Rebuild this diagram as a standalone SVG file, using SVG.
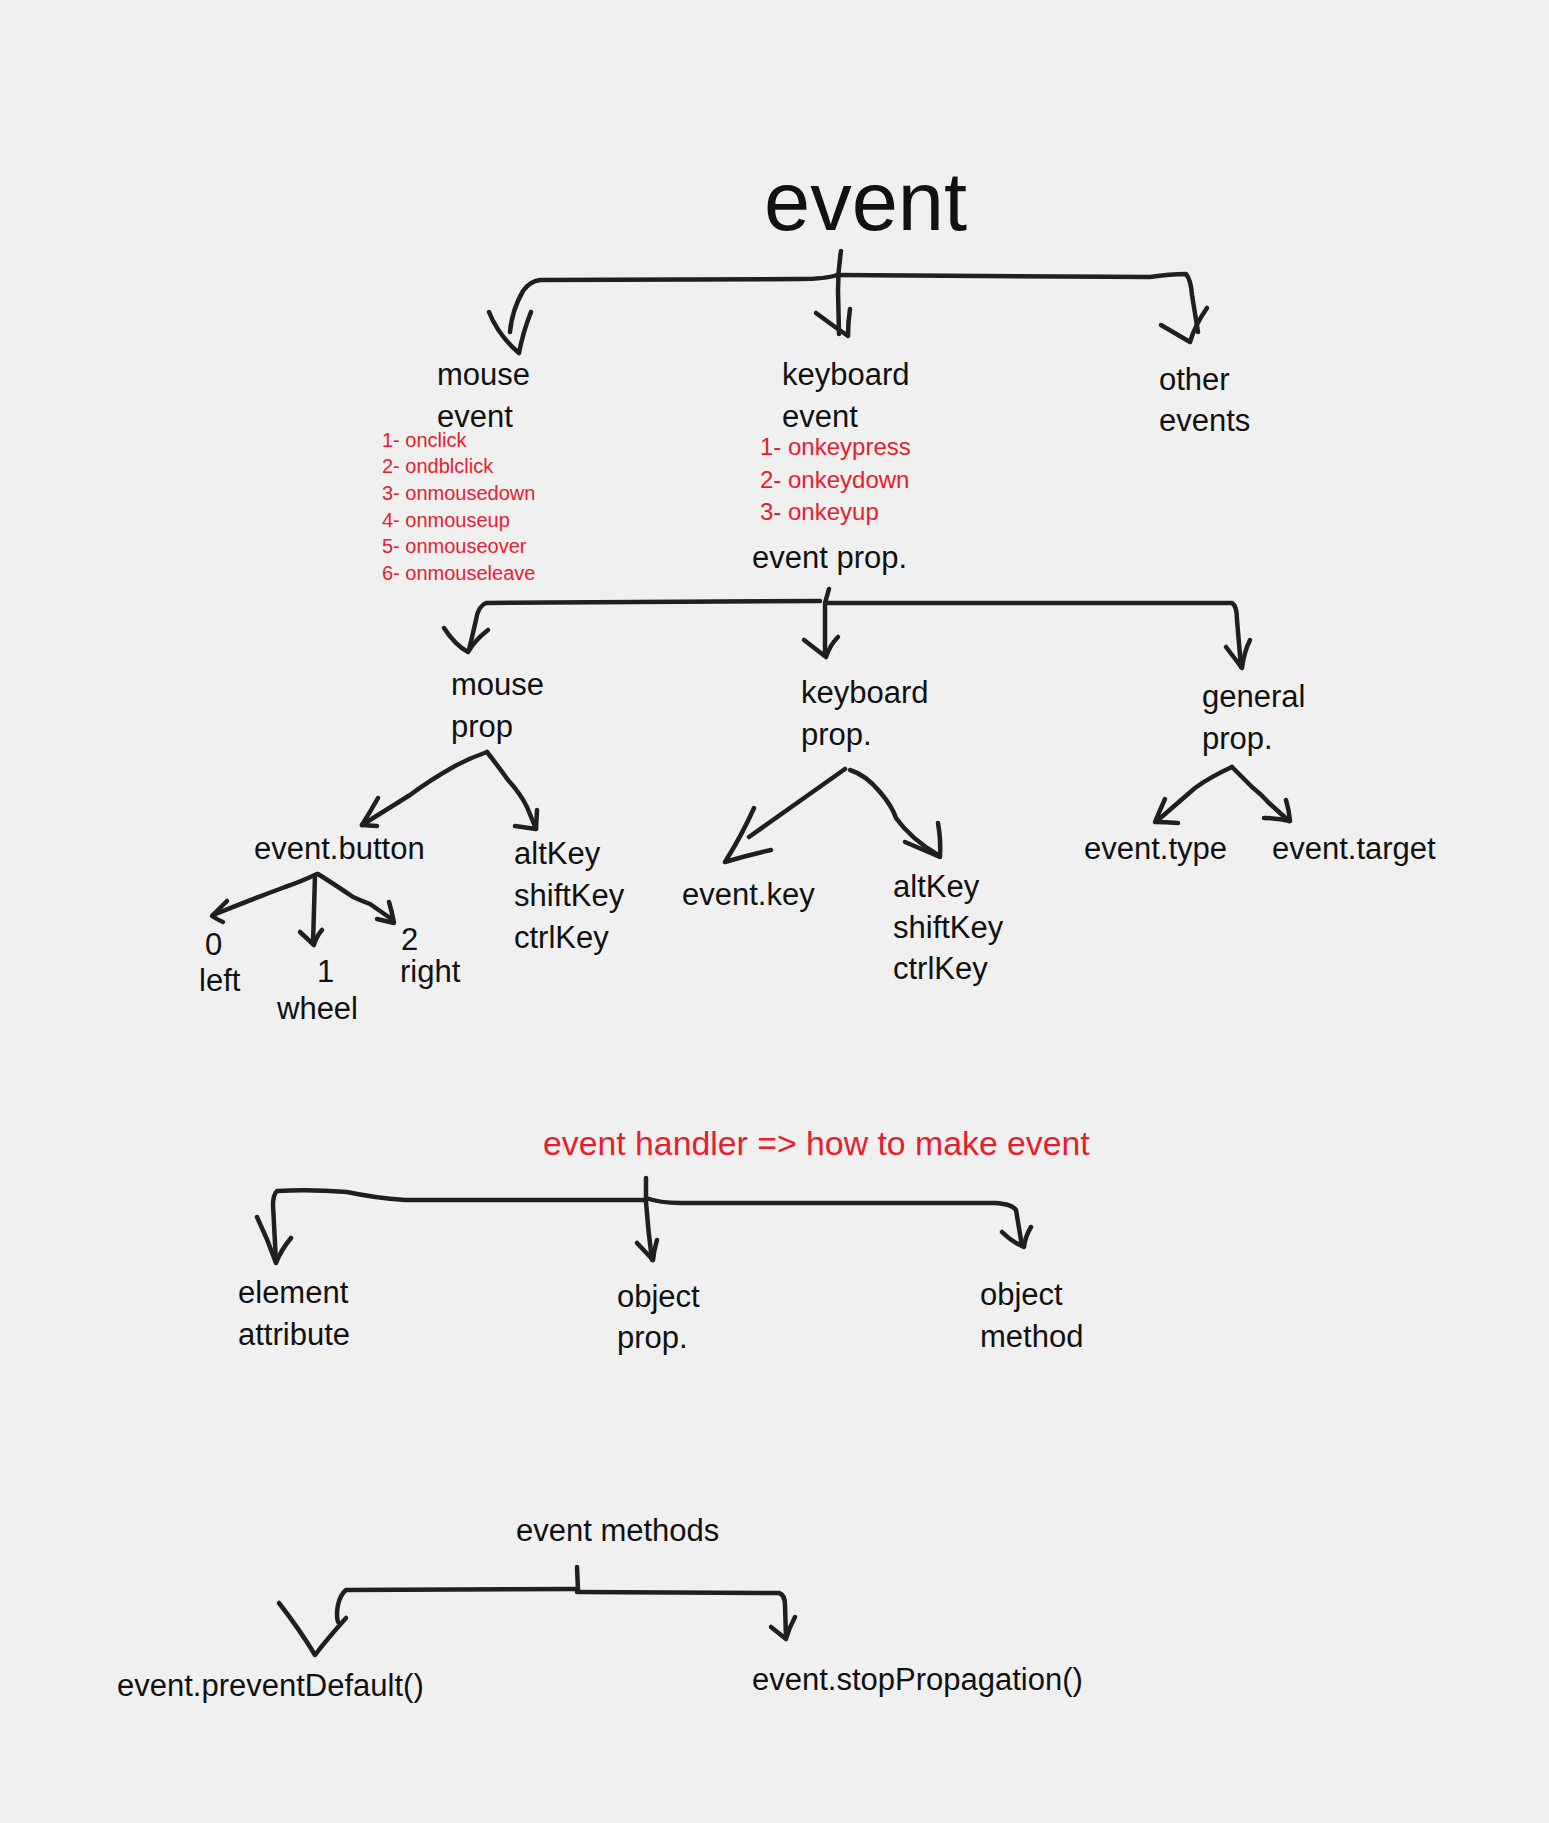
<svg xmlns="http://www.w3.org/2000/svg" width="1549" height="1823" viewBox="0 0 1549 1823">
<style>
.bg{fill:#f0f0f0}
.c{fill:none;stroke:#1f1f1f;stroke-width:4.5;stroke-linecap:round;stroke-linejoin:round}
text{font-family:"Liberation Sans",Arial,sans-serif;fill:#111}
.t{font-size:31px}
.title{font-size:83px}
.rs{font-size:20px;fill:#e5202e}
.rm{font-size:24px;fill:#e5202e}
.rl{font-size:33.8px;fill:#e5202e}
</style>
<rect class="bg" x="0" y="0" width="1549" height="1823"/>
<g id="connectors">
<path class="c" d="M841 251 Q838 270 838 290 L839 334"/>
<path class="c" d="M816 313 Q832 325 848 336 Q848 322 850 309"/>
<path class="c" d="M837 275 Q826 279 800 279 L540 280 Q530 281 523 291 Q512 310 510 332"/>
<path class="c" d="M489 312 Q498 335 519 353 Q523 332 531 312"/>
<path class="c" d="M837 275 L1150 277 Q1170 274 1186 274 Q1191 280 1192 295 L1198 332"/>
<path class="c" d="M1161 325 L1190 342 Q1195 325 1207 308"/>

<path class="c" d="M829 589 L825 603 L825 655"/>
<path class="c" d="M804 640 L826 657 Q830 645 838 637"/>
<path class="c" d="M820 601 L486 603 Q478 606 476 620 L469 650"/>
<path class="c" d="M444 628 Q455 645 468 652 Q475 640 488 630"/>
<path class="c" d="M826 603 L1232 603 Q1237 606 1237 620 L1241 667"/>
<path class="c" d="M1226 647 L1242 668 Q1244 652 1250 640"/>

<path class="c" d="M487 752 Q470 758 455 766 Q430 780 410 795 L362 825"/>
<path class="c" d="M378 798 Q370 812 362 825 L377 826"/>
<path class="c" d="M487 752 Q498 766 508 780 Q520 793 527 807 L536 829"/>
<path class="c" d="M537 810 L536 829 L515 826"/>

<path class="c" d="M317 874 Q300 882 285 887 Q250 900 213 915"/>
<path class="c" d="M227 901 Q220 908 212 916 Q218 920 223 922"/>
<path class="c" d="M315 875 L313 944"/>
<path class="c" d="M300 932 L314 945 Q316 937 322 930"/>
<path class="c" d="M318 874 Q340 888 353 897 Q362 901 370 904 L393 920"/>
<path class="c" d="M389 902 Q392 912 394 923 L377 919"/>

<path class="c" d="M845 769 L749 837"/>
<path class="c" d="M754 808 Q742 835 725 862 Q748 855 771 850"/>
<path class="c" d="M850 770 Q866 775 880 792 Q892 806 896 818 Q910 838 938 855"/>
<path class="c" d="M938 823 Q941 840 940 857 L905 842"/>

<path class="c" d="M1232 767 Q1210 777 1195 788 L1157 821"/>
<path class="c" d="M1165 799 Q1160 810 1155 822 Q1165 822 1178 823"/>
<path class="c" d="M1232 767 Q1243 778 1252 787 Q1262 795 1269 803 L1289 821"/>
<path class="c" d="M1286 800 Q1289 810 1290 821 Q1278 818 1264 818"/>

<path class="c" d="M646 1178 L646 1202"/>
<path class="c" d="M644 1200 L405 1200 Q375 1198 347 1192 Q310 1189 277 1191 Q273 1195 273 1205 L276 1262"/>
<path class="c" d="M257 1217 Q268 1240 276 1263 Q281 1250 291 1238"/>
<path class="c" d="M646 1202 Q648 1230 652 1260"/>
<path class="c" d="M637 1243 L653 1260 Q654 1250 657 1240"/>
<path class="c" d="M646 1198 Q660 1203 680 1203 L995 1203 Q1012 1204 1016 1210 L1022 1246"/>
<path class="c" d="M1002 1232 Q1012 1242 1024 1247 Q1025 1237 1031 1227"/>

<path class="c" d="M577 1567 L578 1590"/>
<path class="c" d="M577 1589 L346 1590 Q340 1595 338 1605 Q336 1615 338 1622"/>
<path class="c" d="M279 1603 Q300 1630 315 1655 Q328 1638 346 1618"/>
<path class="c" d="M577 1592 L779 1593 Q785 1595 785 1605 L786 1638"/>
<path class="c" d="M771 1627 L786 1639 Q789 1628 795 1617"/>
</g>

<g id="event"><text class="title" x="764" y="230">event</text></g>
<g id="mouse-event"><text class="t" x="437" y="385">mouse</text><text class="t" x="437" y="427">event</text></g>
<g id="mouse-event-list">
<text class="rs" x="382" y="447">1- onclick</text>
<text class="rs" x="382" y="473">2- ondblclick</text>
<text class="rs" x="382" y="500">3- onmousedown</text>
<text class="rs" x="382" y="527">4- onmouseup</text>
<text class="rs" x="382" y="553">5- onmouseover</text>
<text class="rs" x="382" y="580">6- onmouseleave</text>
</g>
<g id="keyboard-event"><text class="t" x="782" y="385">keyboard</text><text class="t" x="782" y="427">event</text></g>
<g id="keyboard-event-list">
<text class="rm" x="760" y="455">1- onkeypress</text>
<text class="rm" x="760" y="488">2- onkeydown</text>
<text class="rm" x="760" y="520">3- onkeyup</text>
</g>
<g id="other-events"><text class="t" x="1159" y="390">other</text><text class="t" x="1159" y="431">events</text></g>
<g id="event-prop"><text class="t" x="752" y="568">event prop.</text></g>
<g id="mouse-prop"><text class="t" x="451" y="695">mouse</text><text class="t" x="451" y="737">prop</text></g>
<g id="keyboard-prop"><text class="t" x="801" y="703">keyboard</text><text class="t" x="801" y="745">prop.</text></g>
<g id="general-prop"><text class="t" x="1202" y="707">general</text><text class="t" x="1202" y="749">prop.</text></g>
<g id="event-button"><text class="t" x="254" y="859">event.button</text></g>
<g id="mouse-keys"><text class="t" x="514" y="864">altKey</text><text class="t" x="514" y="906">shiftKey</text><text class="t" x="514" y="948">ctrlKey</text></g>
<g id="btn-0"><text class="t"><tspan x="205" y="955">0</tspan><tspan x="199" y="991">left</tspan></text></g>
<g id="btn-1"><text class="t"><tspan x="317" y="982">1</tspan><tspan x="277" y="1019">wheel</tspan></text></g>
<g id="btn-2"><text class="t"><tspan x="401" y="950">2</tspan><tspan x="400" y="982">right</tspan></text></g>
<g id="event-key"><text class="t" x="682" y="905">event.key</text></g>
<g id="keyboard-keys"><text class="t" x="893" y="897">altKey</text><text class="t" x="893" y="938">shiftKey</text><text class="t" x="893" y="979">ctrlKey</text></g>
<g id="event-type"><text class="t" x="1084" y="859">event.type</text></g>
<g id="event-target"><text class="t" x="1272" y="859">event.target</text></g>
<g id="event-handler"><text class="rl" x="543" y="1155">event handler =&gt; how to make event</text></g>
<g id="element-attribute"><text class="t" x="238" y="1303">element</text><text class="t" x="238" y="1345">attribute</text></g>
<g id="object-prop"><text class="t" x="617" y="1307">object</text><text class="t" x="617" y="1348">prop.</text></g>
<g id="object-method"><text class="t" x="980" y="1305">object</text><text class="t" x="980" y="1347">method</text></g>
<g id="event-methods"><text class="t" x="516" y="1541">event methods</text></g>
<g id="prevent-default"><text class="t" x="117" y="1696">event.preventDefault()</text></g>
<g id="stop-propagation"><text class="t" x="752" y="1690">event.stopPropagation()</text></g>
</svg>
